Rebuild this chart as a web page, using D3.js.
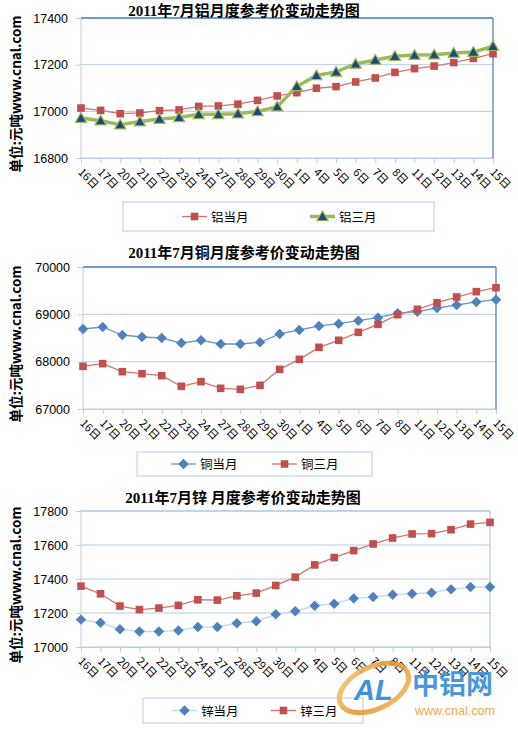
<!DOCTYPE html>
<html><head><meta charset="utf-8">
<script src="https://cdn.jsdelivr.net/npm/d3@7"></script>
<style>body{margin:0;background:#fff}svg{display:block}</style>
</head><body>
<script>
const days = ["16日","17日","20日","21日","22日","23日","24日","27日","28日","29日","30日","1日","4日","5日","6日","7日","8日","11日","12日","13日","14日","15日"];

const alCurrent = [17014,17004,16990,16993,17003,17006,17021,17023,17031,17047,17066,17080,17099,17106,17126,17143,17167,17183,17194,17209,17227,17247];
const alThree   = [16971,16960,16943,16956,16967,16974,16987,16987,16990,17000,17020,17107,17154,17169,17203,17220,17236,17241,17243,17250,17254,17279];
const alTicks = [16800,17000,17200,17400];

const cuCurrent = [68690,68732,68563,68521,68500,68394,68451,68373,68373,68408,68585,68669,68754,68803,68866,68930,69021,69056,69134,69197,69261,69310];
const cuThree   = [67901,67958,67789,67746,67704,67479,67577,67437,67415,67500,67838,68049,68303,68451,68620,68789,68993,69106,69246,69366,69479,69563];
const cuTicks = [67000,68000,69000,70000];

const znCurrent = [17161,17143,17104,17091,17091,17097,17118,17118,17140,17151,17192,17210,17243,17255,17286,17294,17307,17313,17319,17339,17353,17353];
const znThree   = [17358,17313,17241,17220,17229,17245,17278,17276,17301,17317,17362,17411,17483,17526,17567,17606,17641,17665,17667,17690,17723,17733];
const znTicks = [17000,17200,17400,17600,17800];

const W = 518, H = 729;
const svg = d3.select("body").append("svg").attr("width", W).attr("height", H);

const GRID = "#b9cde5", BORDER = "#4f81bd";
const RED = "#c0504d", REDLINE = "#d07572", BLUE = "#4f81bd", GREEN = "#9bbb59", NAVY = "#1f497d";
const CJK = "'Noto Sans CJK SC', 'Noto Sans', sans-serif";
const TITLEF = "'Liberation Serif', 'Noto Sans CJK SC', serif";

function marker(g, type, x, y, fill, stroke) {
  if (type === "square") {
    g.append("rect").attr("x", x - 3.8).attr("y", y - 3.8).attr("width", 7.6).attr("height", 7.6)
      .attr("fill", fill);
  } else if (type === "diamond") {
    g.append("path").attr("d", d3.symbol(d3.symbolDiamond2, 70)()).attr("transform", `translate(${x},${y})`)
      .attr("fill", fill);
  } else if (type === "triangle") {
    g.append("path").attr("d", d3.symbol(d3.symbolTriangle, 55)()).attr("transform", `translate(${x},${y+1})`)
      .attr("fill", fill).attr("stroke", stroke).attr("stroke-width", 1.2);
  }
}

function chart(cfg) {
  const g = svg.append("g");
  const x = d3.scalePoint().domain(days).range([cfg.left, cfg.right]).padding(0);
  const y = d3.scaleLinear().domain([cfg.ticks[0], cfg.ticks[cfg.ticks.length - 1]]).range([cfg.bottom, cfg.top]);

  cfg.ticks.forEach(t => {
    g.append("line").attr("x1", cfg.left).attr("x2", cfg.right).attr("y1", y(t)).attr("y2", y(t))
      .attr("stroke", GRID).attr("stroke-width", 1);
  });
  g.append("line").attr("x1", cfg.left).attr("x2", cfg.left).attr("y1", cfg.top).attr("y2", cfg.bottom)
    .attr("stroke", GRID);
  g.append("line").attr("x1", cfg.left).attr("x2", cfg.right).attr("y1", cfg.top).attr("y2", cfg.top)
    .attr("stroke", cfg.border).attr("stroke-width", 1.3);
  g.append("line").attr("x1", cfg.right).attr("x2", cfg.right).attr("y1", cfg.top).attr("y2", cfg.bottom)
    .attr("stroke", cfg.border).attr("stroke-width", 1.3);

  const ya = g.append("g").attr("transform", `translate(${cfg.left},0)`)
    .call(d3.axisLeft(y).tickValues(cfg.ticks).tickSize(5).tickPadding(8).tickFormat(d3.format("d")));
  ya.select(".domain").remove();
  ya.selectAll(".tick line").attr("stroke", GRID);
  ya.selectAll(".tick text").attr("font-family", "'Liberation Sans', Arial, sans-serif").attr("font-size", 12.5).attr("fill", "#000");

  const xa = g.append("g").attr("transform", `translate(0,${cfg.bottom})`)
    .call(d3.axisBottom(x).tickSize(5).tickPadding(0));
  xa.select(".domain").attr("stroke", GRID);
  xa.selectAll(".tick line").attr("stroke", GRID);
  xa.selectAll(".tick text")
    .attr("font-family", CJK).attr("font-size", 11).attr("fill", "#000")
    .attr("text-anchor", "start").attr("dy", null).attr("y", 0)
    .attr("transform", "translate(-4,15) rotate(45)");

  cfg.series.forEach(s => {
    const line = d3.line().x((d, i) => x(days[i])).y(d => y(d));
    g.append("path").datum(s.values).attr("d", line).attr("fill", "none")
      .attr("stroke", s.line).attr("stroke-width", s.lw);
    s.values.forEach((v, i) => marker(g, s.marker, x(days[i]), y(v), s.fill, s.stroke));
  });

  g.append("text").attr("x", cfg.titleX).attr("y", cfg.titleY).attr("text-anchor", "middle")
    .attr("font-family", TITLEF).attr("font-weight", "bold").attr("font-size", 15).attr("fill", "#000")
    .text(cfg.title);

  g.append("text").attr("transform", `translate(21,${(cfg.top + cfg.bottom) / 2 + 6}) rotate(-90)`)
    .attr("text-anchor", "middle").attr("font-family", CJK).attr("font-weight", "bold").attr("font-size", 13.5)
    .attr("fill", "#000").text("单位:元吨www.cnal.com");

  const L = cfg.legend;
  g.append("rect").attr("x", L.x).attr("y", L.y).attr("width", L.w).attr("height", L.h)
    .attr("fill", "#fff").attr("stroke", GRID).attr("stroke-width", 1);
  cfg.series.forEach((s, i) => {
    const lx = L.items[i], cy = L.y + L.h / 2;
    g.append("line").attr("x1", lx).attr("x2", lx + 25).attr("y1", cy).attr("y2", cy)
      .attr("stroke", s.line).attr("stroke-width", s.lw);
    marker(g, s.marker, lx + 12.5, cy, s.fill, s.stroke);
    g.append("text").attr("x", lx + 29).attr("y", cy + 5).attr("font-family", CJK).attr("font-size", 12.5)
      .attr("fill", "#000").text(s.name);
  });
}

chart({
  left: 81, right: 493, top: 18, bottom: 158, ticks: alTicks, border: BORDER,
  title: "2011年7月铝月度参考价变动走势图", titleX: 244, titleY: 16,
  legend: { x: 123, y: 202, w: 311, h: 29, items: [182, 310] },
  series: [
    { name: "铝当月", values: alCurrent, line: REDLINE, lw: 1.3, marker: "square", fill: RED },
    { name: "铝三月", values: alThree, line: GREEN, lw: 3.5, marker: "triangle", fill: NAVY, stroke: GREEN }
  ]
});

chart({
  left: 83, right: 496, top: 267, bottom: 409, ticks: cuTicks, border: BORDER,
  title: "2011年7月铜月度参考价变动走势图", titleX: 244, titleY: 258,
  legend: { x: 137, y: 452, w: 235, h: 24, items: [171, 272] },
  series: [
    { name: "铜当月", values: cuCurrent, line: "#6d96c8", lw: 1.3, marker: "diamond", fill: BLUE },
    { name: "铜三月", values: cuThree, line: REDLINE, lw: 1.3, marker: "square", fill: RED }
  ]
});

chart({
  left: 81, right: 490, top: 511, bottom: 647, ticks: znTicks, border: GRID,
  title: "2011年7月锌 月度参考价变动走势图", titleX: 243, titleY: 503,
  legend: { x: 143, y: 698, w: 220, h: 25, items: [172, 271] },
  series: [
    { name: "锌当月", values: znCurrent, line: "#c6d9f1", lw: 1.5, marker: "diamond", fill: BLUE },
    { name: "锌三月", values: znThree, line: REDLINE, lw: 1.3, marker: "square", fill: RED }
  ]
});

const defs = svg.append("defs");
const grad = defs.append("linearGradient").attr("id", "og").attr("x1", "0").attr("y1", "0").attr("x2", "1").attr("y2", "1");
grad.append("stop").attr("offset", "0").attr("stop-color", "#f7c97a");
grad.append("stop").attr("offset", "0.5").attr("stop-color", "#e8952e");
grad.append("stop").attr("offset", "1").attr("stop-color", "#f3b85c");
const logo = svg.append("g");
logo.append("ellipse").attr("cx", 374).attr("cy", 688).attr("rx", 37).attr("ry", 21)
  .attr("transform", "rotate(-25 374 688)").attr("fill", "none").attr("stroke", "url(#og)").attr("stroke-width", 5).attr("opacity", 0.9);
logo.append("text").attr("x", 354).attr("y", 700).attr("font-family", "'Liberation Sans', Arial, sans-serif")
  .attr("font-weight", "bold").attr("font-style", "italic").attr("font-size", 29).attr("fill", "#3f93dc").text("AL");
logo.append("text").attr("x", 412).attr("y", 694).attr("font-family", CJK).attr("font-weight", "bold")
  .attr("font-size", 27).attr("fill", "#3f93dc").attr("opacity", 0.95).text("中铝网");
logo.append("text").attr("x", 415).attr("y", 715).attr("font-family", "'Liberation Sans', Arial, sans-serif")
  .attr("font-size", 12.5).attr("fill", "#f0a850").text("www.cnal.com");
</script>
</body></html>
